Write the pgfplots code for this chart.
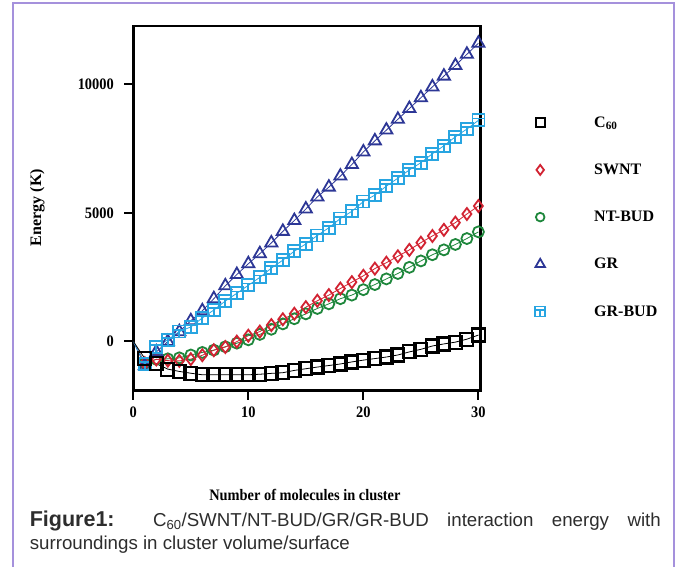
\documentclass[border=0pt]{standalone}
\usepackage{fontspec}
\setmainfont{Liberation Serif}
\newfontfamily\capfont{Liberation Sans}
\newfontfamily\figfont[FakeStretch=0.9]{Liberation Serif}
\usepackage{pgfplots}
\pgfplotsset{compat=1.18}
\usepackage{pgfplotstable}

\definecolor{cRed}{RGB}{210,35,50}
\definecolor{cGreen}{RGB}{30,135,60}
\definecolor{cBlue}{RGB}{45,55,150}
\definecolor{cCyan}{RGB}{40,165,225}
\definecolor{cBorder}{RGB}{165,145,220}
\definecolor{cCap}{RGB}{45,45,45}

\pgfdeclareplotmark{boxplus}{%
  \pgfpathrectangle{\pgfqpoint{-\pgfplotmarksize}{-\pgfplotmarksize}}{\pgfqpoint{2\pgfplotmarksize}{2\pgfplotmarksize}}%
  \pgfpathmoveto{\pgfqpoint{-\pgfplotmarksize}{0.3\pgfplotmarksize}}%
  \pgfpathlineto{\pgfqpoint{\pgfplotmarksize}{0.3\pgfplotmarksize}}%
  \pgfpathmoveto{\pgfqpoint{0pt}{0.3\pgfplotmarksize}}%
  \pgfpathlineto{\pgfqpoint{0pt}{-\pgfplotmarksize}}%
  \pgfusepathqstroke}

\pgfplotstableread{
x c60 swnt ntbud gr grbud
0 0 0 0 0 0
1 -670 -850 -850 -950 -880
2 -870 -700 -700 -410 -210
3 -1080 -750 -680 -10 60
4 -1170 -760 -640 375 380
5 -1240 -690 -530 800 560
6 -1300 -540 -430 1190 910
7 -1300 -345 -340 1660 1220
8 -1300 -220 -210 2160 1570
9 -1300 -10 -70 2600 1870
10 -1300 220 60 3020 2180
11 -1280 380 270 3410 2490
12 -1245 634 470 3830 2850
13 -1220 860 680 4280 3160
14 -1130 1075 880 4700 3510
15 -1065 1330 1070 5150 3790
16 -1000 1580 1280 5620 4120
17 -940 1800 1460 6000 4420
18 -880 2055 1660 6430 4780
19 -800 2305 1800 6880 5060
20 -730 2550 2010 7370 5440
21 -670 2830 2210 7800 5690
22 -610 3060 2430 8220 6040
23 -530 3310 2640 8640 6350
24 -410 3560 2880 9060 6670
25 -310 3840 3130 9480 6950
26 -180 4100 3370 9900 7300
27 -100 4340 3560 10320 7610
28 -30 4620 3770 10730 7960
29 85 4955 4000 11170 8260
30 245 5265 4260 11600 8600
}\datatable

\begin{document}
\begin{tikzpicture}
\useasboundingbox (0pt,0pt) rectangle (680pt,566pt);
\draw[cBorder, line width=1.6pt] (13pt,-20pt) -- (13pt,563pt) -- (674pt,563pt) -- (674pt,-20pt);
\begin{axis}[
  at={(133.3pt,175.3pt)}, anchor=south west,
  scale only axis, width=347.4pt, height=364.7pt,
  xmin=0, xmax=30.2, ymin=-1920, ymax=12270,
  xtick={0,10,20,30}, ytick={0,5000,10000},
  tick align=outside, tick pos=left,
  major tick length=9pt,
  every tick/.style={black, line width=2pt},
  axis line style={line width=2.5pt},
  /pgf/number format/assume math mode=true,
  /pgf/number format/1000 sep={},
  scaled y ticks=false,
  tick label style={font=\figfont\bfseries\fontsize{16}{18}\selectfont},
  yticklabel style={xshift=-7pt},
  xticklabel style={yshift=-4pt},
  clip=false,
  xlabel={\figfont\bfseries\fontsize{16}{18}\selectfont Number of molecules in cluster},
  xlabel style={at={(axis description cs:0.494,-0.285)}, anchor=center},
  ylabel={\bfseries\fontsize{16}{18}\selectfont Energy (K)},
  ylabel style={at={(axis description cs:-0.276,0.502)}, anchor=center},
  legend cell align=left,
  legend style={draw=none, fill=none, inner sep=0pt,
    at={(axis description cs:1.1074,0.7614)}, anchor=north west,
    font=\bfseries\fontsize{16}{18}\selectfont,
    nodes={text height=12pt, text depth=3pt, inner sep=2pt},
    row sep=28.2pt},
  legend image code/.code={\path[draw=none,fill=none] (0pt,0pt) -- (74pt,0pt); \draw[#1, /tikz/only marks] plot coordinates {(22pt,0pt)};},
]
\addlegendimage{only marks, black, mark=square, mark size=4.6pt, mark options={line width=1.8pt}}
\addlegendentry{C\textsubscript{60}}
\addlegendimage{only marks, cRed, mark=diamond, mark size=5pt, mark options={line width=1.8pt}}
\addlegendentry{SWNT}
\addlegendimage{only marks, cGreen, mark=o, mark size=4.3pt, mark options={line width=1.8pt}}
\addlegendentry{NT-BUD}
\addlegendimage{only marks, cBlue, mark=triangle, mark size=5.5pt, mark options={line width=1.8pt}}
\addlegendentry{GR}
\addlegendimage{only marks, cCyan, mark=boxplus, mark size=5pt, mark options={line width=1.8pt}}
\addlegendentry{GR-BUD}

\addplot[forget plot, cGreen, line width=0.8pt, mark=o, mark size=5.5pt, mark repeat=1, mark phase=2, mark options={line width=1.8pt, solid}] table[x=x,y=ntbud]{\datatable};
\addplot[forget plot, cRed, line width=0.8pt, mark=diamond, mark size=6pt, mark repeat=1, mark phase=2, mark options={line width=1.8pt, solid}] table[x=x,y=swnt]{\datatable};
\addplot[forget plot, cBlue, line width=0.8pt, mark=triangle, mark size=7pt, mark repeat=1, mark phase=2, mark options={line width=1.8pt, solid}] table[x=x,y=gr]{\datatable};
\addplot[forget plot, cCyan, line width=0.8pt, mark=boxplus, mark size=6pt, mark repeat=1, mark phase=2, mark options={line width=1.8pt, solid}] table[x=x,y=grbud]{\datatable};
\addplot[forget plot, black, line width=0.8pt, mark=square, mark size=6.5pt, mark repeat=1, mark phase=2, mark options={line width=2.2pt, solid}] table[x=x,y=c60]{\datatable};
\end{axis}
\node[anchor=base west, inner sep=0pt, text=cCap] at (29.6pt,40pt) {\capfont\fontsize{18.7}{22}\selectfont\makebox[631pt][s]{\fontsize{21.5}{22}\selectfont\textbf{Figure1:} \fontsize{18.7}{22}\selectfont C\textsubscript{60}/SWNT/NT-BUD/GR/GR-BUD interaction energy with}};
\node[anchor=base west, inner sep=0pt, text=cCap] at (29.6pt,17pt) {\capfont\fontsize{18.7}{22}\selectfont surroundings in cluster volume/surface};
\end{tikzpicture}
\end{document}
